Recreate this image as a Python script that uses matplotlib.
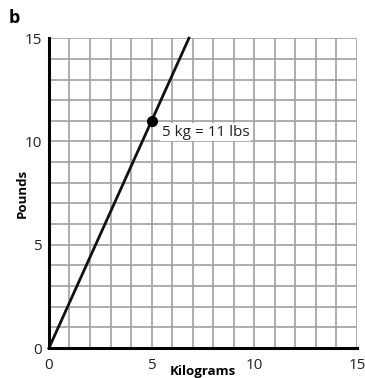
import numpy as np
import matplotlib
matplotlib.use("Agg")
import matplotlib.pyplot as plt

plt.rcParams['font.family'] = ['Open Sans', 'DejaVu Sans']

# data
kg_per_lb_slope = 11 / 5          # 5 kg = 11 lbs
point_kg = [5]
point_lbs = [11]
ticks = [0, 5, 10, 15]
label_text = "5 kg = 11 lbs"

line_kg = np.array([0, 15 / kg_per_lb_slope])
line_lbs = line_kg * kg_per_lb_slope

fig = plt.figure(figsize=(3.65, 3.78), dpi=100)
ax = fig.add_axes([0.134, 0.079, 0.844, 0.820])

ax.set_xlim(0, 15)
ax.set_ylim(0, 15)
ax.set_xticks(np.arange(0, 16, 1), minor=True)
ax.set_yticks(np.arange(0, 16, 1), minor=True)
ax.set_xticks(ticks)
ax.set_yticks(ticks)
ax.grid(True, which='both', color='#a0a0a0', linewidth=1.2)
ax.set_axisbelow(True)
ax.tick_params(which='both', length=0, labelsize=11, colors='#222222')
ax.tick_params(axis='x', pad=7)
ax.tick_params(axis='y', pad=5)

for s in ['top', 'right']:
    ax.spines[s].set_visible(False)
for s in ['left', 'bottom']:
    ax.spines[s].set_linewidth(2.2)
    ax.spines[s].set_color('black')
    ax.spines[s].set_zorder(5)

ax.plot(line_kg, line_lbs, color='#111111', linewidth=2, clip_on=False, zorder=4)
ax.plot(point_kg, point_lbs, 'o', color='black', markersize=7, zorder=6)
ax.text(point_kg[0] + 0.5, point_lbs[0] - 0.55, label_text, fontsize=11,
        va='center', ha='left', color='#222222',
        bbox=dict(facecolor='white', edgecolor='none', pad=1), zorder=5)

ax.set_xlabel('Kilograms', fontsize=9.5, fontweight='bold', labelpad=-6)
ax.set_ylabel('Pounds', fontsize=9.5, fontweight='bold', labelpad=-3)

fig.text(0.025, 0.975, 'b', fontsize=13, fontweight='bold', va='top', ha='left')

fig.savefig('out.png', dpi=100)
